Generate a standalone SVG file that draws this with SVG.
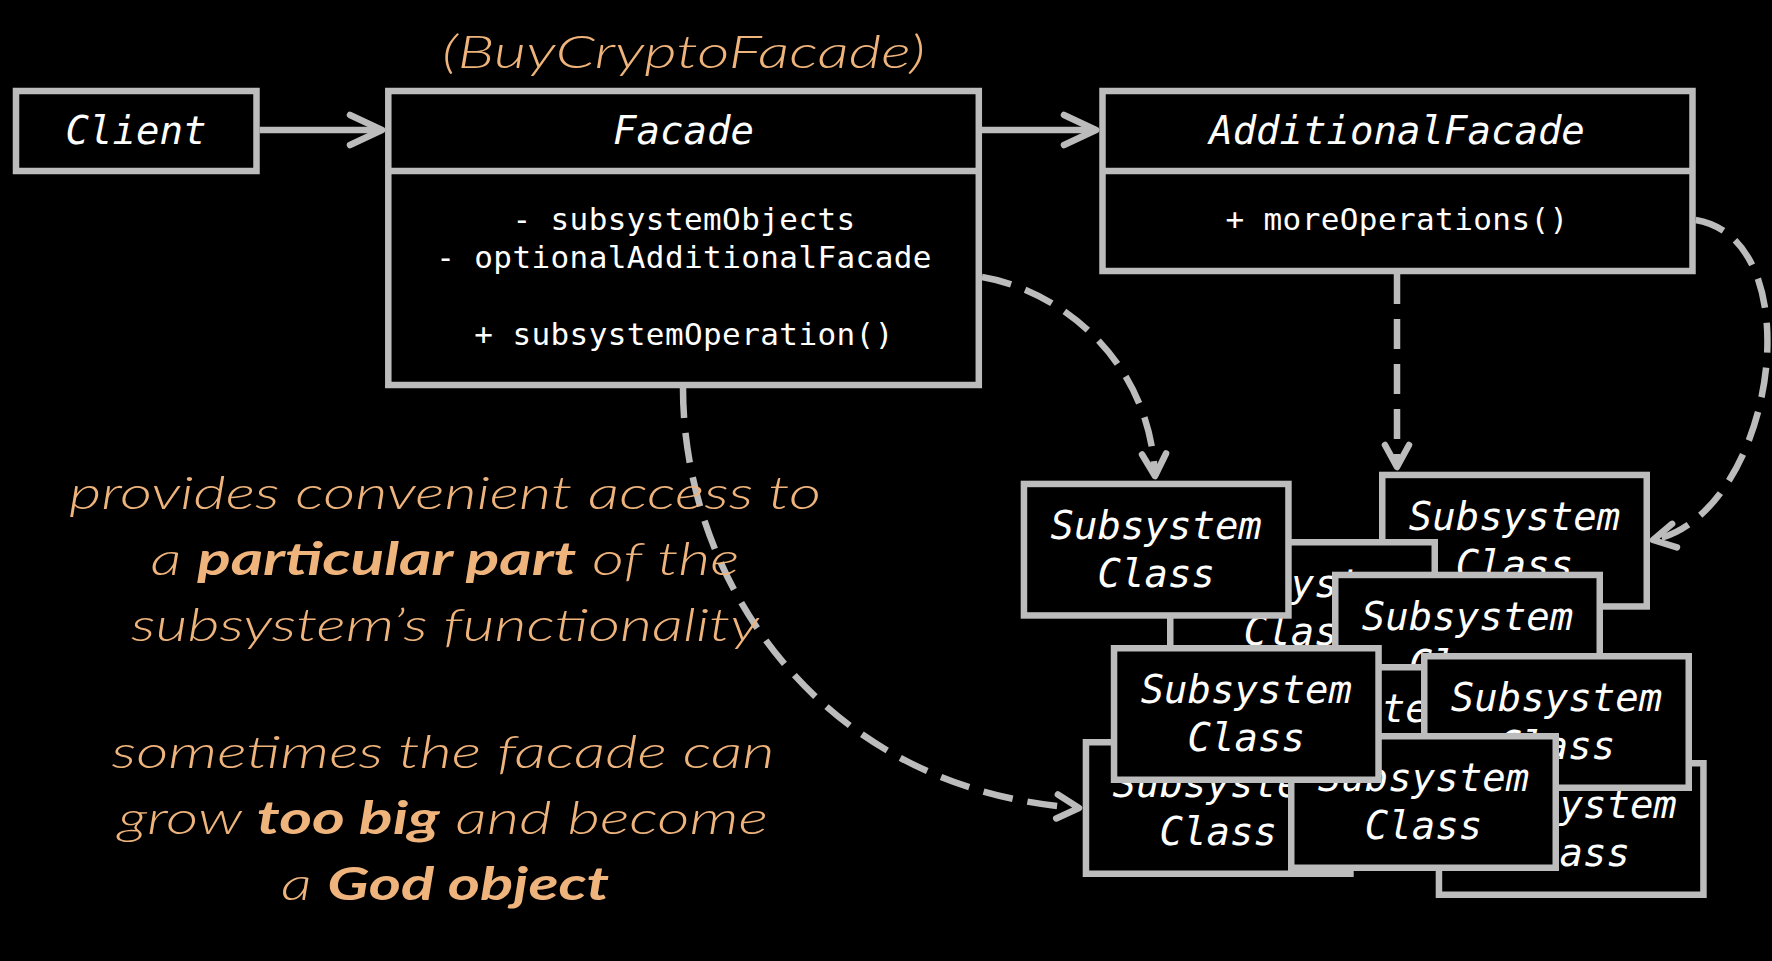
<svg xmlns="http://www.w3.org/2000/svg" width="1772" height="961" viewBox="0 0 1772 961">
<style>
.box{fill:#000;stroke:#bcbcbc;stroke-width:6.5}
.hdr{font-family:"DejaVu Sans Mono","Liberation Mono",monospace;font-style:oblique;font-size:39px;fill:#fff;text-anchor:middle}
.mem{font-family:"DejaVu Sans Mono","Liberation Mono",monospace;font-size:31px;letter-spacing:0.4px;fill:#fff;text-anchor:middle}
.ln{fill:none;stroke:#bcbcbc;stroke-width:6.5}
.dash{stroke-dasharray:30 15}
.note{font-family:Lato,"Open Sans",sans-serif;font-style:italic;font-weight:300;font-size:45px;fill:#efb47c;text-anchor:middle}
.b{font-weight:700}
</style>
<defs>
<marker id="solid" markerUnits="userSpaceOnUse" viewBox="-50 -30 60 60" markerWidth="60" markerHeight="60" refX="0" refY="0" orient="auto" overflow="visible">
<path d="M-32,-15 L0,0 L-32,15" fill="none" stroke="#bcbcbc" stroke-width="6.5" stroke-linecap="round" stroke-linejoin="round"/>
</marker>
<marker id="open" markerUnits="userSpaceOnUse" viewBox="-40 -30 50 60" markerWidth="50" markerHeight="60" refX="0" refY="0" orient="auto" overflow="visible">
<path d="M-22,-12 L0,0 L-22,12" fill="none" stroke="#bcbcbc" stroke-width="6.5" stroke-linecap="round" stroke-linejoin="round"/>
</marker>
</defs>
<rect width="1772" height="961" fill="#000"/>

<text class="note" x="683.5" y="68" font-size="53" textLength="483" lengthAdjust="spacingAndGlyphs">(BuyCryptoFacade)</text>

<g id="connectors">
<path class="ln" d="M259.6,130 L382,130" marker-end="url(#solid)"/>
<path class="ln" d="M982,130 L1096,130" marker-end="url(#solid)"/>
<path class="ln dash" d="M982,277 C1060,290 1150,360 1155,476" marker-end="url(#open)"/>
<path class="ln dash" d="M683,388 C683,580 820,790 1079,808" marker-end="url(#open)"/>
<path class="ln dash" d="M1397,274 L1397,467" marker-end="url(#open)"/>
<path class="ln dash" d="M1695.7,220 C1815,240 1775,515 1653,540" marker-end="url(#open)"/>
</g>

<g id="client">
<rect class="box" x="16" y="91" width="240.5" height="80"/>
<text class="hdr" x="136" y="144">Client</text>
</g>

<g id="facade">
<rect class="box" x="388.3" y="91" width="590.5" height="294"/>
<line class="ln" x1="388.3" y1="171" x2="978.8" y2="171"/>
<text class="hdr" x="683.5" y="144">Facade</text>
<text class="mem" x="684" y="230">- subsystemObjects</text>
<text class="mem" x="684" y="268">- optionalAdditionalFacade</text>
<text class="mem" x="684" y="345">+ subsystemOperation()</text>
</g>

<g id="additional-facade">
<rect class="box" x="1102.5" y="91" width="590" height="180"/>
<line class="ln" x1="1102.5" y1="171" x2="1692.5" y2="171"/>
<text class="hdr" x="1397" y="144">AdditionalFacade</text>
<text class="mem" x="1397" y="230">+ moreOperations()</text>
</g>

<g id="sub-f" transform="translate(1379,471.7)">
<rect class="box" x="3.25" y="3.25" width="264.5" height="131.5"/>
<text class="hdr" x="135.5" y="58">Subsystem</text>
<text class="hdr" x="135.5" y="106">Class</text>
</g>
<g id="sub-b" transform="translate(1167,539)">
<rect class="box" x="3.25" y="3.25" width="264.5" height="131.5"/>
<text class="hdr" x="135.5" y="58">Subsystem</text>
<text class="hdr" x="135.5" y="106">Class</text>
</g>
<g id="sub-c" transform="translate(1332,571.7)">
<rect class="box" x="3.25" y="3.25" width="264.5" height="131.5"/>
<text class="hdr" x="135.5" y="58">Subsystem</text>
<text class="hdr" x="135.5" y="106">Class</text>
</g>
<g id="sub-j" transform="translate(1211,664)">
<rect class="box" x="3.25" y="3.25" width="264.5" height="131.5"/>
<text class="hdr" x="135.5" y="58">Subsystem</text>
<text class="hdr" x="135.5" y="106">Class</text>
</g>
<g id="sub-i" transform="translate(1435.7,760)">
<rect class="box" x="3.25" y="3.25" width="264.5" height="131.5"/>
<text class="hdr" x="135.5" y="58">Subsystem</text>
<text class="hdr" x="135.5" y="106">Class</text>
</g>
<g id="sub-h" transform="translate(1082.7,739)">
<rect class="box" x="3.25" y="3.25" width="264.5" height="131.5"/>
<text class="hdr" x="135.5" y="58">Subsystem</text>
<text class="hdr" x="135.5" y="106">Class</text>
</g>
<g id="sub-e" transform="translate(1421,653)">
<rect class="box" x="3.25" y="3.25" width="264.5" height="131.5"/>
<text class="hdr" x="135.5" y="58">Subsystem</text>
<text class="hdr" x="135.5" y="106">Class</text>
</g>
<g id="sub-g" transform="translate(1288,733)">
<rect class="box" x="3.25" y="3.25" width="264.5" height="131.5"/>
<text class="hdr" x="135.5" y="58">Subsystem</text>
<text class="hdr" x="135.5" y="106">Class</text>
</g>
<g id="sub-a" transform="translate(1020.7,480.7)">
<rect class="box" x="3.25" y="3.25" width="264.5" height="131.5"/>
<text class="hdr" x="135.5" y="58">Subsystem</text>
<text class="hdr" x="135.5" y="106">Class</text>
</g>
<g id="sub-d" transform="translate(1110.8,645)">
<rect class="box" x="3.25" y="3.25" width="264.5" height="131.5"/>
<text class="hdr" x="135.5" y="58">Subsystem</text>
<text class="hdr" x="135.5" y="106">Class</text>
</g>

<g id="notes">
<text class="note" x="445" y="509" textLength="752" lengthAdjust="spacingAndGlyphs">provides convenient access to</text>
<text class="note" x="445" y="575" textLength="589" lengthAdjust="spacingAndGlyphs">a <tspan class="b">particular part</tspan> of the</text>
<text class="note" x="445" y="641" textLength="628" lengthAdjust="spacingAndGlyphs">subsystem’s functionality</text>
<text class="note" x="443" y="768" textLength="663" lengthAdjust="spacingAndGlyphs">sometimes the facade can</text>
<text class="note" x="443" y="834" textLength="650" lengthAdjust="spacingAndGlyphs">grow <tspan class="b">too big</tspan> and become</text>
<text class="note" x="445" y="900" textLength="328" lengthAdjust="spacingAndGlyphs">a <tspan class="b">God object</tspan></text>
</g>
</svg>
